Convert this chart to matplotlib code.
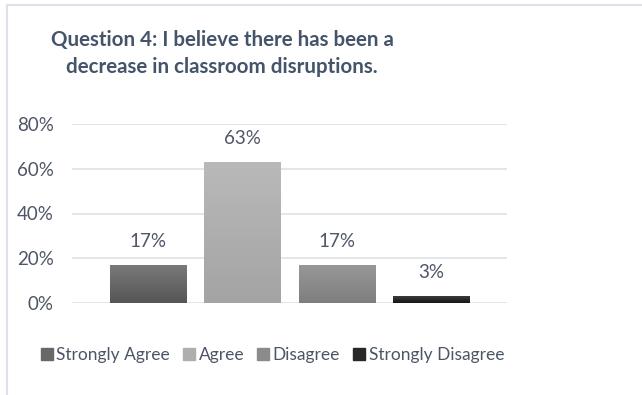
import numpy as np
import matplotlib
matplotlib.use("Agg")
import matplotlib.pyplot as plt
from matplotlib.lines import Line2D
from matplotlib.ticker import PercentFormatter

categories = ["Strongly Agree", "Agree", "Disagree", "Strongly Disagree"]
values = [0.17, 0.63, 0.17, 0.03]
labels = ["17%", "63%", "17%", "3%"]
# top / bottom colour of each bar's vertical gradient
grad_top = ["#7b7b7b", "#b9b9b9", "#989898", "#3c3c3c"]
grad_bot = ["#555555", "#a4a4a4", "#7e7e7e", "#151515"]
yticks = [0, 0.2, 0.4, 0.6, 0.8]

text_color = "#4d5566"
plt.rcParams["font.family"] = ["Lato", "DejaVu Sans"]

fig = plt.figure(figsize=(6.42, 3.95), dpi=100)
ax = fig.add_axes([72 / 642, 92 / 395, 435 / 642, 179 / 395])

x = np.arange(len(categories))
mid_colors = [matplotlib.colors.to_hex(
    (np.array(matplotlib.colors.to_rgb(t)) + np.array(matplotlib.colors.to_rgb(b))) / 2)
    for t, b in zip(grad_top, grad_bot)]
bars = ax.bar(x, values, width=0.816, color=mid_colors, zorder=2)

# paint each bar with a vertical gradient clipped to its rectangle
for rect, top, bot in zip(bars, grad_top, grad_bot):
    c0 = np.array(matplotlib.colors.to_rgb(top))
    c1 = np.array(matplotlib.colors.to_rgb(bot))
    t = np.linspace(0, 1, 64)[:, None]
    img = (c0 * (1 - t) + c1 * t)[:, None, :]
    x0, y0 = rect.get_x(), rect.get_y()
    w, h = rect.get_width(), rect.get_height()
    im = ax.imshow(img, extent=[x0, x0 + w, y0, y0 + h], aspect="auto",
                   origin="upper", zorder=3, interpolation="bilinear")
    im.set_clip_path(rect)

for xi, v, lab in zip(x, values, labels):
    ax.annotate(lab, (xi, v), xytext=(0, 17), textcoords="offset points",
                ha="center", va="center", fontsize=13.5, color=text_color)

ax.set_xlim(-0.81, 3.80)
ax.set_ylim(0, 0.8)
ax.set_yticks(yticks)
ax.yaxis.set_major_formatter(PercentFormatter(1.0, decimals=0))
ax.set_xticks([])
ax.tick_params(axis="y", length=0, pad=13, labelsize=13.5, labelcolor=text_color)
ax.grid(axis="y", color="#dfe3e8", linewidth=1.3, zorder=0)
for s in ax.spines.values():
    s.set_visible(False)

fig.text(222 / 642, 1 - 40 / 395, "Question 4: I believe there has been a",
         ha="center", va="center", fontsize=14.8, fontweight="bold", color="#44546a")
fig.text(222 / 642, 1 - 67 / 395, "decrease in classroom disruptions.",
         ha="center", va="center", fontsize=14.8, fontweight="bold", color="#44546a")

handles = [Line2D([], [], marker="s", linestyle="", markersize=9,
                  markerfacecolor=c, markeredgecolor=c) for c in mid_colors]
fig.legend(handles, categories, loc="center", bbox_to_anchor=(272 / 642, 1 - 355 / 395),
           ncol=4, frameon=False, fontsize=12.5, handlelength=0.8, handletextpad=0.15,
           columnspacing=0.7, labelcolor=text_color)

# outer chart frame (left and top edges)
fig.add_artist(Line2D([7 / 642, 7 / 642], [0, 1 - 5 / 395], transform=fig.transFigure,
                      color="#dde2ea", linewidth=1.5))
fig.add_artist(Line2D([7 / 642, 1], [1 - 5 / 395, 1 - 5 / 395], transform=fig.transFigure,
                      color="#dde2ea", linewidth=1.5))

fig.savefig("out.png", dpi=100)
